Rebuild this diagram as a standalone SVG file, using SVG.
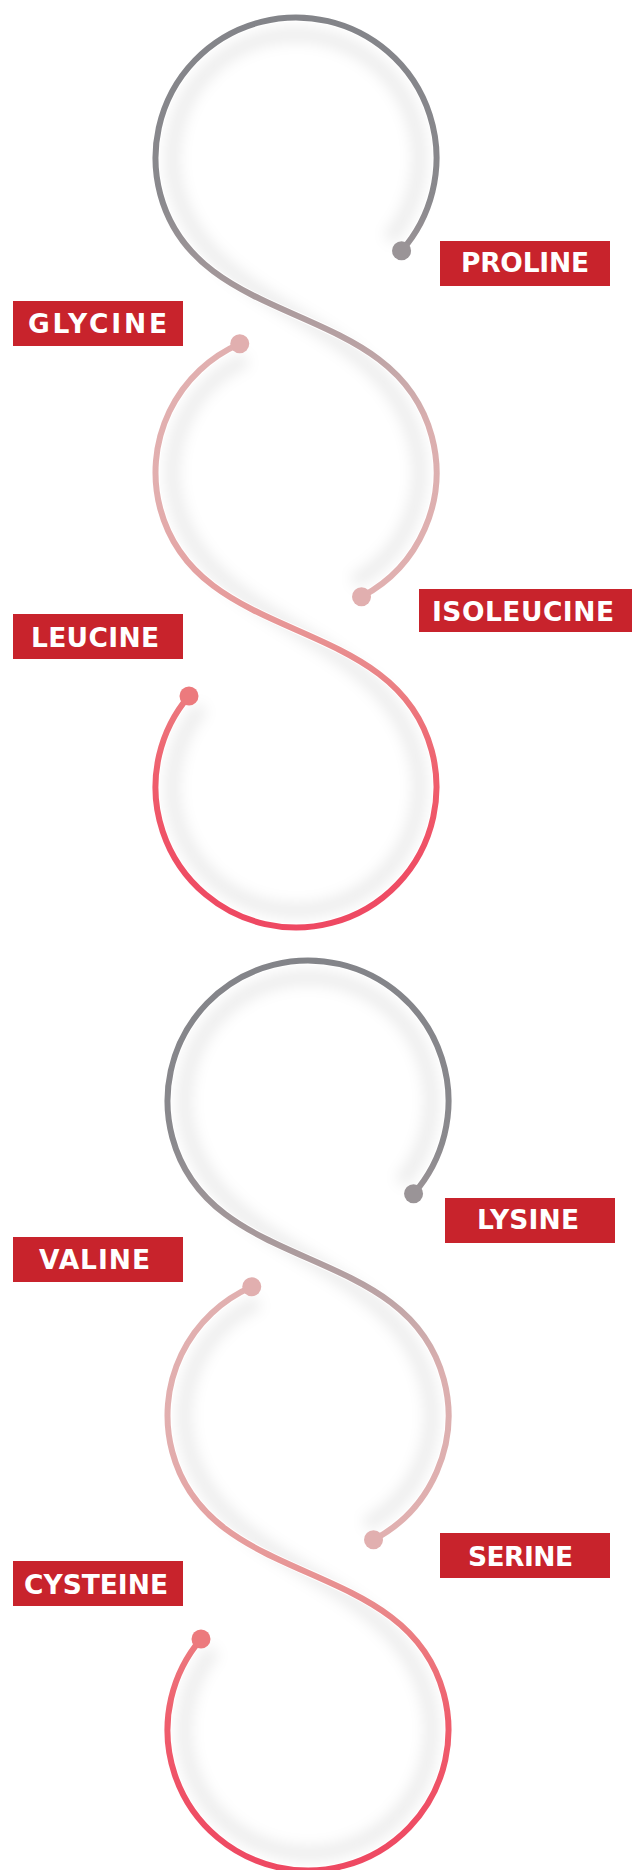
<svg xmlns="http://www.w3.org/2000/svg" width="635" height="1870" viewBox="0 0 635 1870">
<style>
.box{fill:#c8232c}
.lbl{font-family:"DejaVu Sans","Liberation Sans",sans-serif;font-weight:700;font-size:26.5px;fill:#ffffff}
.shadow{fill:none;stroke:#000;stroke-opacity:0.075;stroke-width:14;stroke-linecap:butt}
.ribbon{fill:none;stroke:#fff;stroke-width:8;stroke-linecap:butt}
.line{fill:none;stroke-width:6;stroke-linecap:round}
.dotP{fill:#9a9497}
.dotG{fill:#e1afaf}
.dotL{fill:#ec7a7d}
</style>
<defs>
<linearGradient id="gA" gradientUnits="userSpaceOnUse" x1="0" y1="15" x2="0" y2="600">
<stop offset="0" stop-color="#838489"/>
<stop offset="0.316" stop-color="#8a898d"/>
<stop offset="0.402" stop-color="#9a9396"/>
<stop offset="0.487" stop-color="#a99a9c"/>
<stop offset="0.556" stop-color="#b7a1a3"/>
<stop offset="0.624" stop-color="#c9aaab"/>
<stop offset="0.709" stop-color="#dbafaf"/>
<stop offset="1" stop-color="#e1b0b0"/>
</linearGradient>
<linearGradient id="gB" gradientUnits="userSpaceOnUse" x1="0" y1="343" x2="0" y2="930">
<stop offset="0" stop-color="#e1b0b0"/>
<stop offset="0.267" stop-color="#e2aeae"/>
<stop offset="0.37" stop-color="#e4a5a5"/>
<stop offset="0.472" stop-color="#e79797"/>
<stop offset="0.54" stop-color="#e98a8c"/>
<stop offset="0.608" stop-color="#ec7a7f"/>
<stop offset="0.744" stop-color="#ef5d6c"/>
<stop offset="0.881" stop-color="#ef4f65"/>
<stop offset="1" stop-color="#ee4862"/>
</linearGradient>
<filter id="blur" filterUnits="userSpaceOnUse" x="-50" y="-50" width="735" height="1100">
<feGaussianBlur stdDeviation="7"/>
</filter>
</defs>
<rect width="635" height="1870" fill="#ffffff"/>
<g id="connectors">
<g id="snake-top">
<g filter="url(#blur)">
<path class="shadow" d="M388.79 239.51 A123.5 123.5 0 1 0 176.71 189.96 C210.35 315.53 381.65 314.97 415.29 440.54 A123.5 123.5 0 0 1 353.6 581.75"/>
<path class="shadow" d="M246.56 359.32 A123.5 123.5 0 0 0 176.71 504.46 C210.35 630.03 381.65 629.47 415.29 755.04 A123.5 123.5 0 1 1 201.95 706.96"/>
</g>
<path class="ribbon" d="M401.56 250.73 A140.5 140.5 0 1 0 160.29 194.36 C197.45 333.06 394.55 297.44 431.71 436.14 A140.5 140.5 0 0 1 361.53 596.79"/>
<path class="ribbon" d="M239.76 343.75 A140.5 140.5 0 0 0 160.29 508.86 C197.45 647.56 394.55 611.94 431.71 750.64 A140.5 140.5 0 1 1 189.0 695.94"/>
<path class="line" stroke="url(#gA)" d="M401.56 250.73 A140.5 140.5 0 1 0 160.29 194.36 C197.45 333.06 394.55 297.44 431.71 436.14 A140.5 140.5 0 0 1 361.53 596.79"/>
<path class="line" stroke="url(#gB)" d="M239.76 343.75 A140.5 140.5 0 0 0 160.29 508.86 C197.45 647.56 394.55 611.94 431.71 750.64 A140.5 140.5 0 1 1 189.0 695.94"/>
</g>
<g id="snake-bottom" transform="translate(12 943)">
<g filter="url(#blur)">
<path class="shadow" d="M388.79 239.51 A123.5 123.5 0 1 0 176.71 189.96 C210.35 315.53 381.65 314.97 415.29 440.54 A123.5 123.5 0 0 1 353.6 581.75"/>
<path class="shadow" d="M246.56 359.32 A123.5 123.5 0 0 0 176.71 504.46 C210.35 630.03 381.65 629.47 415.29 755.04 A123.5 123.5 0 1 1 201.95 706.96"/>
</g>
<path class="ribbon" d="M401.56 250.73 A140.5 140.5 0 1 0 160.29 194.36 C197.45 333.06 394.55 297.44 431.71 436.14 A140.5 140.5 0 0 1 361.53 596.79"/>
<path class="ribbon" d="M239.76 343.75 A140.5 140.5 0 0 0 160.29 508.86 C197.45 647.56 394.55 611.94 431.71 750.64 A140.5 140.5 0 1 1 189.0 695.94"/>
<path class="line" stroke="url(#gA)" d="M401.56 250.73 A140.5 140.5 0 1 0 160.29 194.36 C197.45 333.06 394.55 297.44 431.71 436.14 A140.5 140.5 0 0 1 361.53 596.79"/>
<path class="line" stroke="url(#gB)" d="M239.76 343.75 A140.5 140.5 0 0 0 160.29 508.86 C197.45 647.56 394.55 611.94 431.71 750.64 A140.5 140.5 0 1 1 189.0 695.94"/>
</g>
</g>
<g id="proline">
<circle class="dotP" cx="401.56" cy="250.73" r="9.5"/>
<rect class="box" x="440" y="241" width="170" height="45"/>
<text class="lbl" x="461" y="272" textLength="128" lengthAdjust="spacing">PROLINE</text>
</g>
<g id="glycine">
<circle class="dotG" cx="239.76" cy="343.75" r="9.5"/>
<rect class="box" x="13" y="301" width="170" height="45"/>
<text class="lbl" x="28" y="333" textLength="139" lengthAdjust="spacing">GLYCINE</text>
</g>
<g id="isoleucine">
<circle class="dotG" cx="361.53" cy="596.79" r="9.5"/>
<rect class="box" x="419" y="589" width="213" height="43"/>
<text class="lbl" x="432" y="621" textLength="182" lengthAdjust="spacing">ISOLEUCINE</text>
</g>
<g id="leucine">
<circle class="dotL" cx="189.0" cy="695.94" r="9.5"/>
<rect class="box" x="13" y="614" width="170" height="45"/>
<text class="lbl" x="31" y="647" textLength="128" lengthAdjust="spacing">LEUCINE</text>
</g>
<g id="lysine">
<circle class="dotP" cx="413.56" cy="1193.73" r="9.5"/>
<rect class="box" x="445" y="1198" width="170" height="45"/>
<text class="lbl" x="477" y="1229" textLength="102" lengthAdjust="spacing">LYSINE</text>
</g>
<g id="valine">
<circle class="dotG" cx="251.76" cy="1286.75" r="9.5"/>
<rect class="box" x="13" y="1237" width="170" height="45"/>
<text class="lbl" x="39" y="1269" textLength="111" lengthAdjust="spacing">VALINE</text>
</g>
<g id="serine">
<circle class="dotG" cx="373.53" cy="1539.79" r="9.5"/>
<rect class="box" x="440" y="1533" width="170" height="45"/>
<text class="lbl" x="468" y="1566" textLength="105" lengthAdjust="spacing">SERINE</text>
</g>
<g id="cysteine">
<circle class="dotL" cx="201.0" cy="1638.94" r="9.5"/>
<rect class="box" x="13" y="1561" width="170" height="45"/>
<text class="lbl" x="24" y="1594" textLength="144" lengthAdjust="spacing">CYSTEINE</text>
</g>
</svg>
